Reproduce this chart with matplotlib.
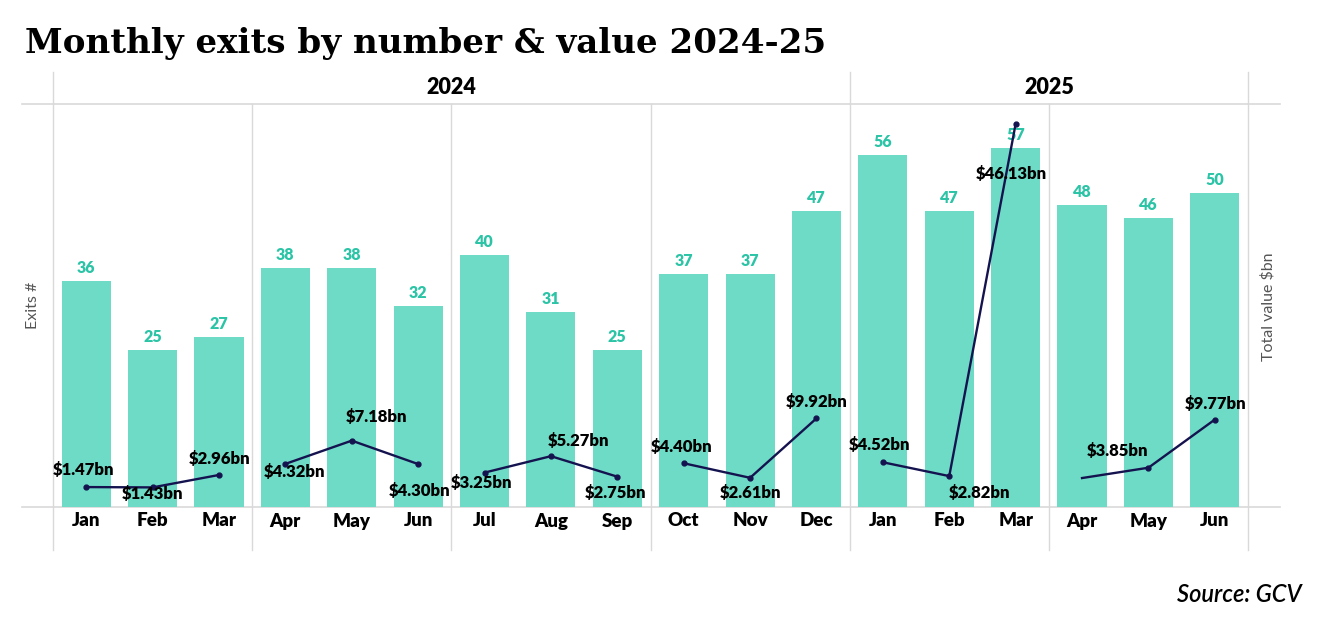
import matplotlib.pyplot as plt
import matplotlib.transforms as mtransforms

# data
months = ['Jan', 'Feb', 'Mar', 'Apr', 'May', 'Jun', 'Jul', 'Aug', 'Sep',
          'Oct', 'Nov', 'Dec', 'Jan', 'Feb', 'Mar', 'Apr', 'May', 'Jun']
years = ['2024', '2025']
exits = [36, 25, 27, 38, 38, 32, 40, 31, 25, 37, 37, 47, 56, 47, 57, 48, 46, 50]
value_bn = [1.47, 1.43, 2.96, 4.32, 7.18, 4.30, 3.25, 5.27, 2.75,
            4.40, 2.61, 9.92, 4.52, 2.82, 46.13, 2.58, 3.85, 9.77]
value_labels = ['$1.47bn', '$1.43bn', '$2.96bn', '$4.32bn', '$7.18bn', '$4.30bn',
                '$3.25bn', '$5.27bn', '$2.75bn', '$4.40bn', '$2.61bn', '$9.92bn',
                '$4.52bn', '$2.82bn', '$46.13bn', None, '$3.85bn', '$9.77bn']

# label offsets in pixels (dx, dy) from the line points
offsets = [(-3, 17), (0, -7), (1, 16), (9, -8), (25, 24), (1, -27),
           (-3, -10), (28, 15), (-2, -16), (-2, 16), (0, -15), (0, 16),
           (-3, 17), (30, -17), (-4, -50), (0, 0), (-31, 17), (1, 16)]

BAR = '#6DDBC6'
BAR_TXT = '#2CC4A6'
LINE = '#15134F'
GRID = '#D9D9D9'
FONT = 'Lato'

W, H = 1325, 627
fig = plt.figure(figsize=(W / 100, H / 100), dpi=100)

def fx(px):
    return px / W

def fy(py):
    return 1 - py / H

left, right, top, bottom = 53, 1248, 104, 507
ax = fig.add_axes([fx(left), fy(bottom), fx(right - left), (bottom - top) / H])
ax2 = ax.twinx()

x = list(range(len(months)))
ax.bar(x, exits, width=0.74, color=BAR, zorder=2)
for xi, v in zip(x, exits):
    ax.annotate(str(v), (xi, v), xytext=(0, 5), textcoords='offset pixels',
                ha='center', va='bottom', color=BAR_TXT, fontsize=11.5,
                fontweight='heavy', family=FONT)
ax.set_xlim(-0.5, len(months) - 0.5)
ax.set_ylim(0, 64.07)

# line, broken into quarters
for q in range(6):
    idx = x[q * 3:q * 3 + 3]
    ax2.plot(idx, value_bn[q * 3:q * 3 + 3], color=LINE, lw=1.7, zorder=5)
mk = [i for i in x if value_labels[i] is not None]
ax2.plot(mk, [value_bn[i] for i in mk], 'o', color=LINE, ms=3.5, zorder=6)
for i in x:
    if value_labels[i] is None:
        continue
    dx, dy = offsets[i]
    ax2.annotate(value_labels[i].replace('$', r'\$'), (i, value_bn[i]),
                 xytext=(dx, dy), textcoords='offset pixels', ha='center',
                 va='center', fontsize=12, fontweight='heavy', color='black',
                 family=FONT, zorder=7)
ax2.set_ylim(-0.98, 48.58)

for a in (ax, ax2):
    a.set_yticks([])
    a.set_xticks([])
    for s in a.spines.values():
        s.set_visible(False)

# grid / frame lines
trans = mtransforms.blended_transform_factory(ax.transData, ax.transAxes)
x0 = (22 - left) / (right - left) * 18 - 0.5
x1 = (1280 - left) / (right - left) * 18 - 0.5
for yy in (0, 1):
    ax.plot([x0, x1], [yy, yy], transform=trans, color=GRID, lw=1.2,
            clip_on=False, zorder=1)
y_low = -(550 - bottom) / (bottom - top)
y_high = (bottom - 72) / (bottom - top)
for k in range(7):
    xb = k * 3 - 0.5
    yt = y_high if k in (0, 4, 6) else 1
    ax.plot([xb, xb], [y_low, yt], transform=trans, color=GRID, lw=1.0,
            clip_on=False, zorder=1)

# month and year labels
for i, m in enumerate(months):
    ax.text(i, -(521 - bottom) / (bottom - top), m, transform=trans,
            ha='center', va='center', fontsize=13.5, fontweight='heavy',
            family=FONT)
ax.text(5.5, (bottom - 88) / (bottom - top), years[0], transform=trans,
        ha='center', va='center', fontsize=15.5, fontweight='heavy', family=FONT)
ax.text(14.5, (bottom - 88) / (bottom - top), years[1], transform=trans,
        ha='center', va='center', fontsize=15.5, fontweight='heavy', family=FONT)

# titles and axis names
fig.text(fx(25), fy(44), 'Monthly exits by number & value 2024-25',
         ha='left', va='center', fontsize=24.6, fontweight='bold',
         family='DejaVu Serif')
fig.text(fx(33), fy(305), 'Exits #', rotation=90, ha='center', va='center',
         fontsize=11.5, color='#555555', family=FONT)
fig.text(fx(1268), fy(307), r'Total value \$bn', rotation=90, ha='center',
         va='center', fontsize=11.5, color='#555555', family=FONT)
fig.text(fx(1302), fy(594), 'Source: GCV', ha='right', va='center',
         fontsize=17, fontstyle='italic', fontweight='semibold', family=FONT)

fig.savefig('out.png', dpi=100)
